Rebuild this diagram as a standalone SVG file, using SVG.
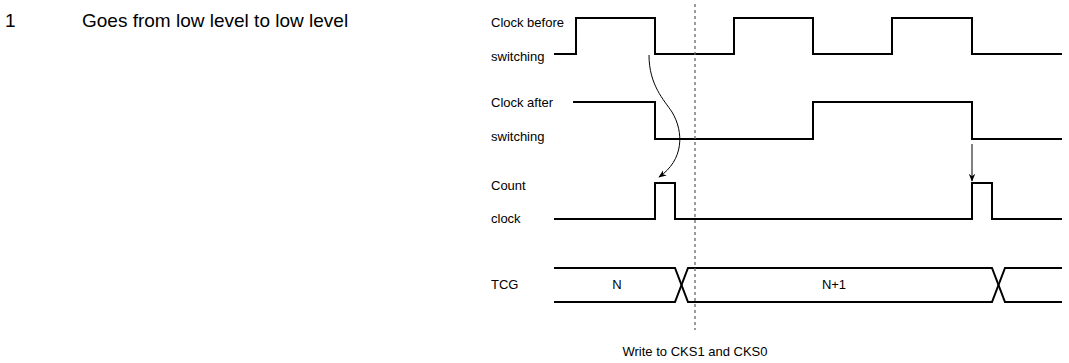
<svg xmlns="http://www.w3.org/2000/svg" width="1069" height="363" viewBox="0 0 1069 363">
<style>
text{font-family:"Liberation Sans",Arial,sans-serif;fill:#000}
.lbl{font-size:13px}
.hdr{font-size:19px}
.sig{fill:none;stroke:#000;stroke-width:2}
.arr{fill:none;stroke:#000;stroke-width:1;marker-end:url(#ah)}
.dash{stroke:#666;stroke-width:1.3;stroke-dasharray:3,3}
</style>
<defs>
<marker id="ah" viewBox="0 0 10 10" refX="9" refY="5" markerWidth="8" markerHeight="8" markerUnits="userSpaceOnUse" orient="auto">
<path d="M0,1 L10,5 L0,9 L3,5 Z" fill="#000"/>
</marker>
</defs>
<g id="header">
<text class="hdr" x="5" y="27">1</text>
<text class="hdr" x="82" y="27">Goes from low level to low level</text>
</g>
<g id="labels">
<text class="lbl" x="491" y="27">Clock before</text>
<text class="lbl" x="491" y="61">switching</text>
<text class="lbl" x="491" y="107">Clock after</text>
<text class="lbl" x="491" y="141">switching</text>
<text class="lbl" x="491" y="190">Count</text>
<text class="lbl" x="491" y="223">clock</text>
<text class="lbl" x="491" y="289">TCG</text>
</g>
<g id="clock-before">
<path class="sig" d="M554,54 H576 V18 H655 V54 H734 V18 H813 V54 H892 V18 H972 V54 H1062"/>
</g>
<g id="clock-after">
<path class="sig" d="M573,102 H655 V139 H813 V102 H972 V139 H1062"/>
</g>
<g id="count-clock">
<path class="sig" d="M554,219 H655 V183 H675 V219 H972 V183 H992 V219 H1062"/>
</g>
<g id="tcg">
<path class="sig" d="M554,268 H675 L688,302 H992 L1005,268 H1062"/>
<path class="sig" d="M554,302 H675 L688,268 H992 L1005,302 H1062"/>
<text class="lbl" x="617" y="289" text-anchor="middle">N</text>
<text class="lbl" x="834" y="289" text-anchor="middle">N+1</text>
</g>
<g id="connectors">
<line class="dash" x1="695" y1="4" x2="695" y2="330"/>
<path class="arr" d="M649,55 C649,85 664,100 672,112 C684,132 684,160 659,177"/>
<line class="arr" x1="972" y1="144" x2="972" y2="181"/>
</g>
<g id="note">
<text class="lbl" x="695" y="356" text-anchor="middle">Write to CKS1 and CKS0</text>
</g>
</svg>
